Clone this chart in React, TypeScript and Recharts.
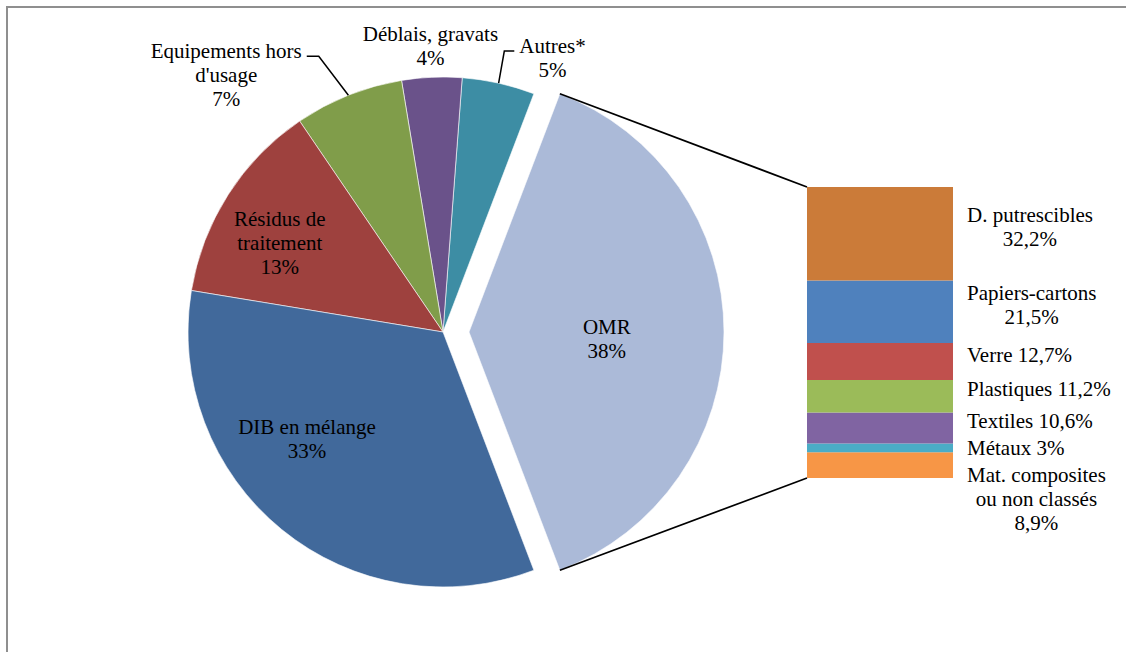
import React from 'react';
import { PieChart, Pie, Cell, BarChart, Bar, XAxis, YAxis, LabelList } from 'recharts';

// ---------- data ----------
const pieCategories = ['OMR', 'Autres*', 'Déblais, gravats', "Equipements hors\nd'usage", 'Résidus de\ntraitement', 'DIB en mélange'];
const pieValues = [38.4, 4.6, 3.8, 6.9, 12.9, 33.4];
const pieColors = ['#ABBAD8', '#3D8DA4', '#6A528A', '#809D4A', '#9E413E', '#41699B'];

const barCategories = ['D. putrescibles', 'Papiers-cartons', 'Verre', 'Plastiques', 'Textiles', 'Métaux', 'Mat. composites\nou non classés'];
const barValues = [32.2, 21.5, 12.7, 11.2, 10.6, 3, 8.9];
const barColors = ['#CB7B39', '#4F81BD', '#C0504D', '#9BBB59', '#8064A2', '#4BACC6', '#F79646'];

// ---------- layout / style ----------
const W = 1126;
const H = 652;
const PIE_CX = 443;
const PIE_CY = 332;
const PIE_R = 255;
const EXPLODE = 26;
const BAR_LEFT = 807;
const BAR_TOP = 187;
const BAR_W = 146;
const BAR_H = 291;
const FONT = "'Liberation Serif', 'Times New Roman', serif";
const FS = 21;
const LH = 24;
const BASE = 7;

// label placement relative to each slice's mid angle (degrees shift, distance from centre)
const pieLabelLayout = [
  { shift: -3, dist: 138, leader: false },
  { shift: -9.2, dist: 295, leader: true },
  { shift: 0, dist: 286, leader: false },
  { shift: 18.4, dist: 336, leader: true },
  { shift: 3.9, dist: 186, leader: false },
  { shift: -12.6, dist: 173, leader: false },
];
const barValueOnNewLine = [true, true, false, false, false, false, true];

const RAD = Math.PI / 180;
const pol = (cx: number, cy: number, r: number, deg: number) => ({
  x: cx + r * Math.cos(deg * RAD),
  y: cy - r * Math.sin(deg * RAD),
});

let measureCtx: CanvasRenderingContext2D | null = null;
function measure(t: string): number {
  if (!measureCtx) {
    const c = document.createElement('canvas');
    measureCtx = c.getContext('2d');
  }
  if (!measureCtx) return t.length * FS * 0.45;
  measureCtx.font = `${FS}px "Liberation Serif"`;
  return measureCtx.measureText(t).width;
}

const pieTotal = pieValues.reduce((a, b) => a + b, 0);
const half = (180 * pieValues[0]) / pieTotal;
const pieData = pieCategories.map((name, i) => ({ name, value: pieValues[i], idx: i }));
const mainData = pieData.slice(1);
const omrData = pieData.slice(0, 1);

const barTotal = barValues.reduce((a, b) => a + b, 0);
const barRow: Record<string, any> = { name: 'OMR' };
barCategories.forEach((_, i) => {
  barRow[`s${i}`] = barValues[i];
});
const barData = [barRow];

const fmtFr = (v: number) => (Number.isInteger(v) ? `${v}%` : `${v.toFixed(1).replace('.', ',')}%`);

function renderPieLabel(props: any) {
  const { cx, cy, midAngle, outerRadius } = props;
  let idx = props.payload?.idx ?? props.idx;
  if (idx === undefined) idx = pieCategories.indexOf(props.name);
  const lay = pieLabelLayout[idx];
  const lines = [...pieCategories[idx].split('\n'), `${Math.round(pieValues[idx])}%`];
  const p = pol(cx, cy, lay.dist, midAngle + lay.shift);
  const n = lines.length;
  const centers = lines.map((_, k) => p.y + (k - (n - 1) / 2) * LH);
  const extras: React.ReactNode[] = [];
  if (lay.leader) {
    const w0 = measure(lines[0]);
    const arc = pol(cx, cy, outerRadius, midAngle);
    const toRight = arc.x > p.x;
    const sx = toRight ? p.x + w0 / 2 + 5 : p.x - w0 / 2 - 5;
    const sy = centers[0] + 5;
    const hx = sx + (toRight ? 12 : -10);
    extras.push(
      <path key="leader" d={`M${sx},${sy}L${hx},${sy}L${arc.x},${arc.y}`} stroke="#000" strokeWidth={1.5} fill="none" />
    );
  }
  if (idx === 0) {
    const sa = props.startAngle ?? -half;
    const ea = props.endAngle ?? half;
    const up = pol(cx, cy, outerRadius, Math.max(sa, ea));
    const lo = pol(cx, cy, outerRadius, Math.min(sa, ea));
    extras.push(
      <path key="c1" d={`M${up.x},${up.y}L${BAR_LEFT},${BAR_TOP}`} stroke="#000" strokeWidth={1.7} fill="none" />,
      <path key="c2" d={`M${lo.x},${lo.y}L${BAR_LEFT},${BAR_TOP + BAR_H}`} stroke="#000" strokeWidth={1.7} fill="none" />
    );
  }
  return (
    <g key={`pl-${idx}`}>
      {extras}
      <text textAnchor="middle" fontFamily={FONT} fontSize={FS} fill="#000">
        {lines.map((l, k) => (
          <tspan key={k} x={p.x} y={centers[k] + BASE}>
            {l}
          </tspan>
        ))}
      </text>
    </g>
  );
}

function barLines(i: number): string[] {
  const nameLines = barCategories[i].split('\n');
  const v = fmtFr(barValues[i]);
  if (barValueOnNewLine[i]) return [...nameLines, v];
  const copy = [...nameLines];
  copy[copy.length - 1] = `${copy[copy.length - 1]} ${v}`;
  return copy;
}

function renderBarLabel(p: any, i: number) {
  const vb = p.viewBox && p.viewBox.width !== undefined ? p.viewBox : p;
  const x = Number(vb.x ?? p.x);
  const y = Number(vb.y ?? p.y);
  const w = Number(vb.width ?? p.width);
  const hgt = Number(vb.height ?? p.height);
  const top = Math.min(y, y + hgt);
  const h = Math.abs(hgt);
  const k = h / barValues[i];
  const cumBefore = barValues.slice(0, i).reduce((a, b) => a + b, 0);
  const stackTop = top - k * cumBefore;
  let prevBottom = -Infinity;
  let cum = 0;
  let myCenter = 0;
  for (let j = 0; j < barValues.length; j++) {
    const segTop = stackTop + k * cum;
    const segCenter = segTop + (k * barValues[j]) / 2;
    const nL = barLines(j).length;
    const hh = (nL * LH) / 2 + 1.5;
    const c = Math.max(segCenter - 7, prevBottom + hh);
    prevBottom = c + hh;
    cum += barValues[j];
    if (j === i) myCenter = c;
  }
  const lines = barLines(i);
  const left = x + w + 14;
  const maxW = Math.max(...lines.map(measure));
  const cxText = left + maxW / 2;
  const n = lines.length;
  return (
    <text key={`bl-${i}`} textAnchor="middle" fontFamily={FONT} fontSize={FS} fill="#000">
      {lines.map((l, kk) => (
        <tspan key={kk} x={cxText} y={myCenter + (kk - (n - 1) / 2) * LH + BASE}>
          {l}
        </tspan>
      ))}
    </text>
  );
}

export default function App() {
  const order = barCategories.map((_, i) => barCategories.length - 1 - i);
  return (
    <div style={{ position: 'relative', width: W, height: H, overflow: 'hidden', background: '#fff' }}>
      <style>{'body{margin:0;}'}</style>
      <div
        style={{
          position: 'absolute',
          left: 6,
          top: 6,
          width: W + 20,
          height: H + 20,
          border: '2px solid #8f8f8f',
          boxSizing: 'border-box',
        }}
      />
      <div style={{ position: 'absolute', left: 0, top: 0 }}>
        <PieChart width={W} height={H} margin={{ top: 0, right: 0, bottom: 0, left: 0 }}>
          <Pie
            data={mainData}
            dataKey="value"
            nameKey="name"
            cx={PIE_CX}
            cy={PIE_CY}
            outerRadius={PIE_R}
            startAngle={half}
            endAngle={360 - half}
            stroke="#ffffff"
            strokeWidth={0.6}
            label={renderPieLabel}
            labelLine={false}
            isAnimationActive={false}
          >
            {mainData.map((d) => (
              <Cell key={d.name} fill={pieColors[d.idx]} />
            ))}
          </Pie>
          <Pie
            data={omrData}
            dataKey="value"
            nameKey="name"
            cx={PIE_CX + EXPLODE}
            cy={PIE_CY}
            outerRadius={PIE_R}
            startAngle={-half}
            endAngle={half}
            stroke="#ffffff"
            strokeWidth={0.6}
            label={renderPieLabel}
            labelLine={false}
            isAnimationActive={false}
          >
            {omrData.map((d) => (
              <Cell key={d.name} fill={pieColors[d.idx]} />
            ))}
          </Pie>
        </PieChart>
      </div>
      <div style={{ position: 'absolute', left: 0, top: 0 }}>
        <BarChart
          width={W}
          height={H}
          data={barData}
          barCategoryGap={0}
          margin={{ top: BAR_TOP, left: BAR_LEFT, right: W - BAR_LEFT - BAR_W, bottom: H - BAR_TOP - BAR_H }}
        >
          <XAxis dataKey="name" hide />
          <YAxis hide domain={[0, barTotal]} />
          {order.map((i) => (
            <Bar key={i} dataKey={`s${i}`} stackId="omr" fill={barColors[i]} isAnimationActive={false}>
              <LabelList dataKey={`s${i}`} content={(p: any) => renderBarLabel(p, i)} />
            </Bar>
          ))}
        </BarChart>
      </div>
    </div>
  );
}
